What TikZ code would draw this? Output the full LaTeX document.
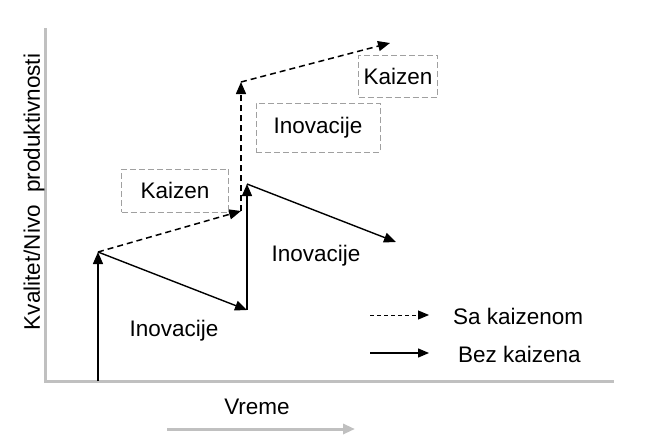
\documentclass[tikz,border=0pt]{standalone}
\usepackage{fontspec}
\setmainfont{Liberation Sans}
\usetikzlibrary{arrows.meta}
\definecolor{axisgray}{HTML}{C0C0C0}
\definecolor{boxgray}{HTML}{A0A0A0}
\begin{document}
\begin{tikzpicture}[x=1pt,y=-1pt,
  lbl/.style={font=\fontsize{22.5}{25}\selectfont, inner sep=0pt},
  solidarrow/.style={line width=1.4pt, -{Triangle[length=12pt,width=10pt]}},
  dasharrow/.style={line width=1.5pt, dash pattern=on 6pt off 4pt, -{Triangle[length=12pt,width=10pt]}},
  kbox/.style={draw=boxgray, line width=1pt, dash pattern=on 6pt off 3pt, minimum width=#1, minimum height=43pt, inner sep=0pt, font=\fontsize{22.5}{25}\selectfont},
  axisline/.style={draw=axisgray, line width=3pt}]
\useasboundingbox (0,0) rectangle (653,439);
\fill[white] (0,0) rectangle (653,439);
% axes
\coordinate (otop) at (45,28);
\coordinate (o) at (45,381);
\coordinate (xend) at (614,381);
\draw[axisline] (otop) -- (o) -- (xend);
% y label
\node[lbl, rotate=90] (ylab) at (34,192) {Kvalitet/Nivo\ \ produktivnosti};
% time arrow
\node[lbl] (vreme) at (257,407) {Vreme};
\coordinate (t0) at (167,429);
\coordinate (t1) at (355,429);
\draw[draw=axisgray, line width=3pt, -{Triangle[length=12pt,width=10pt]}, color=axisgray] (t0) -- (t1);
% solid path
\coordinate (p0) at (98,381);
\coordinate (p1) at (98,252);
\coordinate (p2) at (247,310);
\coordinate (p3) at (247,184);
\coordinate (p4) at (396,242);
\draw[solidarrow] (p0) -- (p1);
\draw[solidarrow] (p1) -- (p2);
\draw[solidarrow] (p2) -- (p3);
\draw[solidarrow] (p3) -- (p4);
% dashed path
\coordinate (d1) at (241,211);
\coordinate (d2) at (241,82);
\coordinate (d3) at (390,43);
\draw[dasharrow] (p1) -- (d1);
\draw[dasharrow] (d1) -- (d2);
\draw[dasharrow] (d2) -- (d3);
% boxes
\node[kbox=107pt] (k1) at (175,190.5) {Kaizen};
\node[kbox=124pt, minimum height=49pt] (i2) at (318,127.5) {Inovacije};
\node[kbox=79pt, minimum height=42pt] (k2) at (398,76) {Kaizen};
% labels
\node[lbl] (in1) at (316,256) {Inovacije};
\node[lbl] (in0) at (174,331) {Inovacije};
% legend
\coordinate (l1a) at (370,315);
\coordinate (l1b) at (429,315);
\coordinate (l2a) at (370,353);
\coordinate (l2b) at (429,353);
\draw[line width=1pt, dash pattern=on 4pt off 3pt, -{Triangle[length=11pt,width=9pt]}] (l1a) -- (l1b);
\draw[line width=1.4pt, -{Triangle[length=11pt,width=9pt]}] (l2a) -- (l2b);
\node[lbl, anchor=west] (sa) at (453,316) {Sa kaizenom};
\node[lbl, anchor=west] (bez) at (458,354) {Bez kaizena};
\end{tikzpicture}
\end{document}
